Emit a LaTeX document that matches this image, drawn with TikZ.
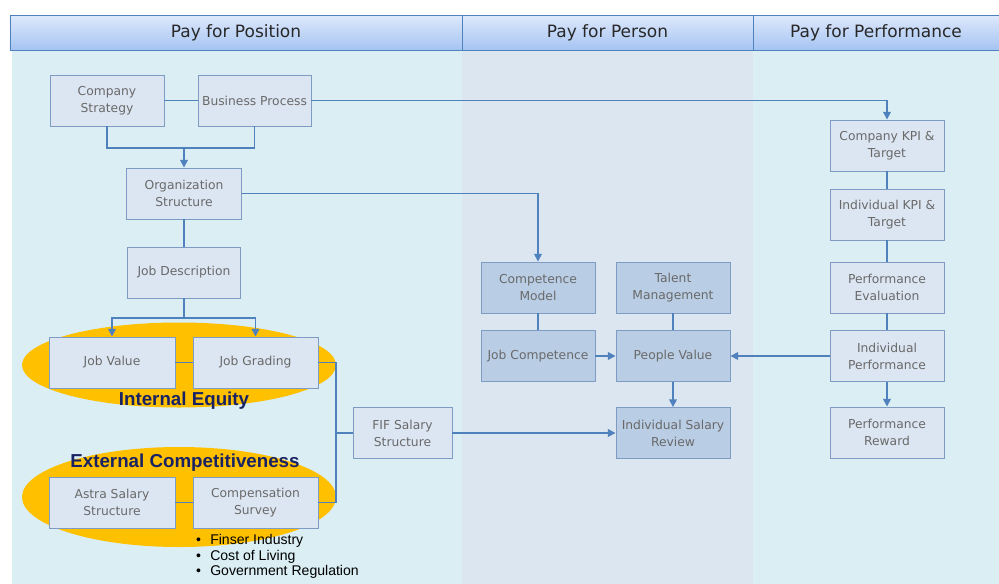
\documentclass[tikz,border=0pt]{standalone}
\usepackage{fontspec}
\setmainfont{DejaVu Sans}
\newfontfamily\arialfont{Liberation Sans}
\usetikzlibrary{shapes,arrows.meta,positioning}
\definecolor{linec}{RGB}{79,129,189}
\definecolor{boxline}{RGB}{125,155,195}
\definecolor{boxfill}{RGB}{220,230,242}
\definecolor{midfill}{RGB}{185,205,229}
\definecolor{boxtext}{RGB}{105,105,105}
\definecolor{panelA}{RGB}{218,238,243}
\definecolor{panelB}{RGB}{220,230,241}
\definecolor{gold}{RGB}{255,192,0}
\definecolor{navy}{RGB}{25,35,100}
\newcommand{\bul}{\makebox[12pt][l]{\textbullet}}

\begin{document}
\begin{tikzpicture}[x=0.03cm,y=-0.03cm]
    \tikzstyle{box}=[rectangle,draw=boxline,fill=boxfill,text=boxtext,align=center,minimum width=3.42cm,minimum height=1.53cm,inner sep=1pt,line width=0.8pt,font=\fontsize{10.5}{14.5}\selectfont]
    \tikzstyle{mbox}=[box,fill=midfill]
    \tikzstyle{head}=[rectangle,draw=linec,line width=0.8pt,top color={rgb,255:red,222;green,233;blue,252},bottom color={rgb,255:red,165;green,196;blue,242},text={rgb,255:red,40;green,40;blue,40},minimum height=1.05cm,font=\fontsize{14.5}{16}\selectfont]
    \tikzstyle{oval}=[ellipse,fill=gold,minimum width=9.42cm,inner sep=0pt]
    \tikzstyle{lab}=[text=navy,font=\arialfont\bfseries\fontsize{16}{18}\selectfont]
    \tikzstyle{link}=[draw=linec,line width=1.3pt]
    \tikzstyle{arr}=[link,-{Triangle[length=6.5pt,width=6.5pt]}]

    \useasboundingbox (0,0) rectangle (999,584);

    % column panels
    \fill[panelA] (12,50) rectangle (462,584);
    \fill[panelB] (462,50) rectangle (753,584);
    \fill[panelA] (753,50) rectangle (999,584);

    % header
    \node(hpos)  [head,minimum width=13.56cm] at (236,32.5) {Pay for Position};
    \node(hper)  [head,minimum width=8.73cm] at (607.5,32.5) {Pay for Person};
    \node(hperf) [head,minimum width=7.38cm] at (876,32.5) {Pay for Performance};

    % equity ovals
    \node(ieo) [oval,minimum height=2.55cm] at (179,365) {};
    \node(eco) [oval,minimum height=3cm] at (179,497) {};
    \node(iel) [lab] at (184,401) {Internal Equity};
    \node(ecl) [lab] at (185,463) {External Competitiveness};

    % pay for position
    \node(cs)  [box] at (107,100.5) {Company\\Strategy};
    \node(bp)  [box,minimum width=3.39cm] at (254.5,100.5) {Business Process};
    \node(org) [box,minimum width=3.45cm] at (184,193.5) {Organization\\Structure};
    \node(jd)  [box,minimum width=3.39cm] at (184,272.5) {Job Description};
    \node(jv)  [box,minimum width=3.78cm] at (112,362.5) {Job Value};
    \node(jg)  [box,minimum width=3.75cm] at (255.5,362.5) {Job Grading};
    \node(as)  [box,minimum width=3.78cm] at (112,502.5) {Astra Salary\\Structure};
    \node(csv) [box,minimum width=3.75cm] at (255.5,502.5) {Compensation\\Survey};
    \node(fif) [box,minimum width=2.97cm] at (402.5,433) {FIF Salary\\Structure};
    \node(fac) [anchor=north west,align=left,inner sep=0pt,font=\arialfont\fontsize{12}{13.3}\selectfont] at (196,534) {\bul Finser Industry\\\bul Cost of Living\\\bul Government Regulation};

    % pay for person
    \node(cm)  [mbox] at (538,287.5) {Competence\\Model};
    \node(tm)  [mbox] at (673,287.5) {Talent\\Management};
    \node(jc)  [mbox] at (538,356) {Job Competence};
    \node(pv)  [mbox] at (673,356) {People Value};
    \node(isr) [mbox] at (673,433) {Individual Salary\\Review};

    % pay for performance
    \node(ckpi) [box] at (887,145.5) {Company KPI \&\\Target};
    \node(ikpi) [box] at (887,214.5) {Individual KPI \&\\Target};
    \node(pe)   [box] at (887,287.5) {Performance\\Evaluation};
    \node(ip)   [box] at (887,356) {Individual\\Performance};
    \node(pr)   [box] at (887,432.5) {Performance\\Reward};

    \coordinate(j1) at (184,148);
    \coordinate(j2) at (184,318);
    \coordinate(j3) at (336,433);

    \draw [link] (cs) -- (bp);
    \draw [arr] (bp) -| (ckpi);
    \draw [link] (cs) |- (j1) -| (bp);
    \draw [arr] (j1) -- (org);
    \draw [arr] (org) -| (cm);
    \draw [link] (org) -- (jd);
    \draw [link] (jd) -- (j2);
    \draw [arr] (j2) -| (jv);
    \draw [arr] (j2) -| (jg);
    \draw [link] (jv) -- (jg);
    \draw [link] (as) -- (csv);
    \draw [link] (jg) -| (j3);
    \draw [link] (csv) -| (j3);
    \draw [link] (j3) -- (fif);
    \draw [arr] (fif) -- (isr);
    \draw [link] (cm) -- (jc);
    \draw [link] (tm) -- (pv);
    \draw [arr] (jc) -- (pv);
    \draw [arr] (pv) -- (isr);
    \draw [arr] (ip) -- (pv);
    \draw [link] (ckpi) -- (ikpi);
    \draw [link] (ikpi) -- (pe);
    \draw [link] (pe) -- (ip);
    \draw [arr] (ip) -- (pr);

\end{tikzpicture}
\end{document}
